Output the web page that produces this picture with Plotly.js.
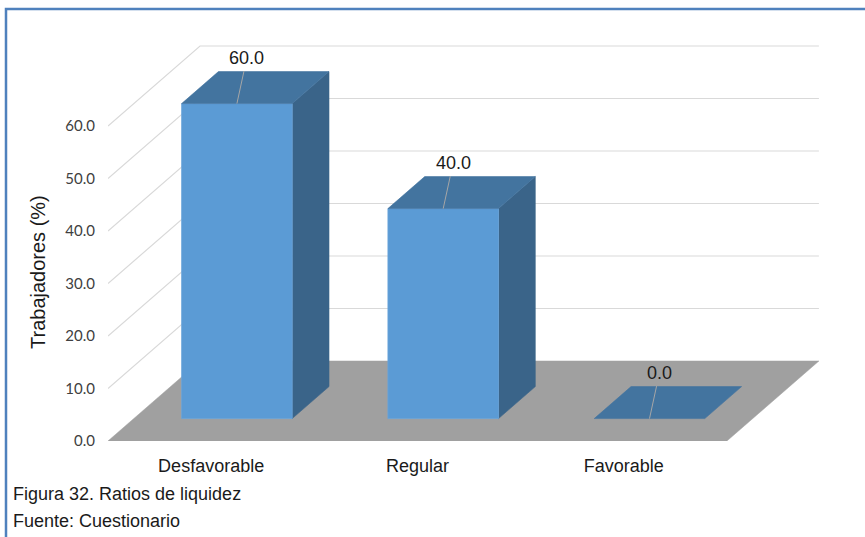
<!DOCTYPE html>
<html>
<head>
<meta charset="utf-8">
<script src="https://cdn.plot.ly/plotly-3.0.1.min.js"></script>
<style>html,body{margin:0;padding:0;background:#fff;}#chart{width:865px;height:537px;}</style>
</head>
<body>
<div id="chart"></div>
<script>
// ---- data ----
var categories = ["Desfavorable", "Regular", "Favorable"];
var values = [60.0, 40.0, 0.0];
var tickValues = [0, 10, 20, 30, 40, 50, 60];
var tickLabels = ["0.0", "10.0", "20.0", "30.0", "40.0", "50.0", "60.0"];
var axisTitle = "Trabajadores (%)";
var caption1 = "Figura 32. Ratios de liquidez";
var caption2 = "Fuente: Cuestionario";

// ---- 3D projection style (in axis units) ----
var DX = 0.446;   // depth shift along x (category units)
var DY = 15.24;   // depth shift along y (value units)
var F0 = 0.28, F1 = 0.68; // bar front/back depth fractions
var HW = 0.268;   // bar half width
var n = categories.length;
var xL = -0.5, xR = n - 0.5;

var traces = [];
function poly(xs, ys, color, lw, lc) {
  traces.push({type: 'scatter', mode: 'lines', x: xs, y: ys, fill: 'toself',
    fillcolor: color, line: {color: lc || color, width: lw == null ? 0.6 : lw},
    hoverinfo: 'skip', showlegend: false});
}

// gridlines (left wall diagonal + back wall horizontal)
var gx = [], gy = [];
tickValues.forEach(function (v) {
  if (v === 0) return;
  gx.push(xL, xL + DX, xR + DX, null);
  gy.push(v, v + DY, v + DY, null);
});
traces.push({type: 'scatter', mode: 'lines', x: gx, y: gy,
  line: {color: '#D9D9D9', width: 1.2}, hoverinfo: 'skip', showlegend: false, connectgaps: false});

// floor
poly([xL, xR, xR + DX, xL + DX, xL], [0, 0, DY, DY, 0], '#A0A0A0', 0.5);

// bars
var annotations = [];
var ddx = (F1 - F0) * DX, ddy = (F1 - F0) * DY;
values.forEach(function (v, i) {
  var x0 = i - HW + F0 * DX, x1 = i + HW + F0 * DX, y0 = F0 * DY, top = y0 + v;
  if (v > 0) {
    poly([x1, x1 + ddx, x1 + ddx, x1, x1], [y0, y0 + ddy, top + ddy, top, y0], '#3A6489');
    poly([x0, x1, x1, x0, x0], [y0, y0, top, top, y0], '#5B9BD5', 0.8, '#6AA5DB');
  }
  poly([x0, x1, x1 + ddx, x0 + ddx, x0], [top, top, top + ddy, top + ddy, top], '#43749F');
  annotations.push({x: (x0 + x1) / 2, y: top, xref: 'x', yref: 'y', text: v.toFixed(1),
    showarrow: true, arrowhead: 0, arrowwidth: 1, arrowcolor: '#A6A6A6',
    ax: 10, ay: -46, standoff: 0, startstandoff: 2,
    font: {family: 'Liberation Sans, Arial, sans-serif', size: 18, color: '#1A1A1A'}});
});

var plotW = 714, pxPerCat = 206.3, pxPerVal = 5.25, plotH = 411;

// axis title (placed as rotated text beside the value axis)
annotations.push({xref: 'paper', yref: 'paper', x: (38 - 108) / plotW, y: (441 - 272) / plotH,
  xanchor: 'center', yanchor: 'middle', textangle: -90, text: axisTitle, showarrow: false,
  font: {family: 'Liberation Sans, Arial, sans-serif', size: 20, color: '#1A1A1A'}});

// captions
annotations.push({xref: 'paper', yref: 'paper', x: (11 - 108) / plotW, y: (441 - 494) / plotH, xanchor: 'left', yanchor: 'middle',
  text: caption1, showarrow: false, font: {family: 'Liberation Sans, Arial, sans-serif', size: 18, color: '#1A1A1A'}});
annotations.push({xref: 'paper', yref: 'paper', x: (11 - 108) / plotW, y: (441 - 521) / plotH, xanchor: 'left', yanchor: 'middle',
  text: caption2, showarrow: false, font: {family: 'Liberation Sans, Arial, sans-serif', size: 18, color: '#1A1A1A'}});

var layout = {
  width: 865, height: 537,
  margin: {l: 108, r: 865 - 108 - plotW, t: 537 - 96 - plotH, b: 96},
  paper_bgcolor: '#FFFFFF', plot_bgcolor: 'rgba(0,0,0,0)',
  showlegend: false,
  xaxis: {range: [xL, xL + plotW / pxPerCat], tickvals: categories.map(function (c, i) { return i; }),
    ticktext: categories, showgrid: false, zeroline: false, showline: false, ticks: '',
    ticklabelstandoff: 12, fixedrange: true,
    tickfont: {family: 'Liberation Sans, Arial, sans-serif', size: 18, color: '#1A1A1A'}},
  yaxis: {range: [0, plotH / pxPerVal], tickvals: tickValues, ticktext: tickLabels,
    showgrid: false, zeroline: false, showline: false, ticks: '', ticklabelstandoff: 12, fixedrange: true,
    tickfont: {family: 'Lato, sans-serif', size: 15, color: '#404040'}},
  annotations: annotations,
  shapes: [{type: 'rect', xref: 'paper', yref: 'paper', x0: (6 - 108) / plotW, x1: 1.2,
    y0: -0.4, y1: (441 - 9) / plotH, line: {color: '#4F81BD', width: 2.5}, fillcolor: 'rgba(0,0,0,0)', layer: 'below'}]
};
Plotly.newPlot('chart', traces, layout, {staticPlot: true, displayModeBar: false});
</script>
</body>
</html>
